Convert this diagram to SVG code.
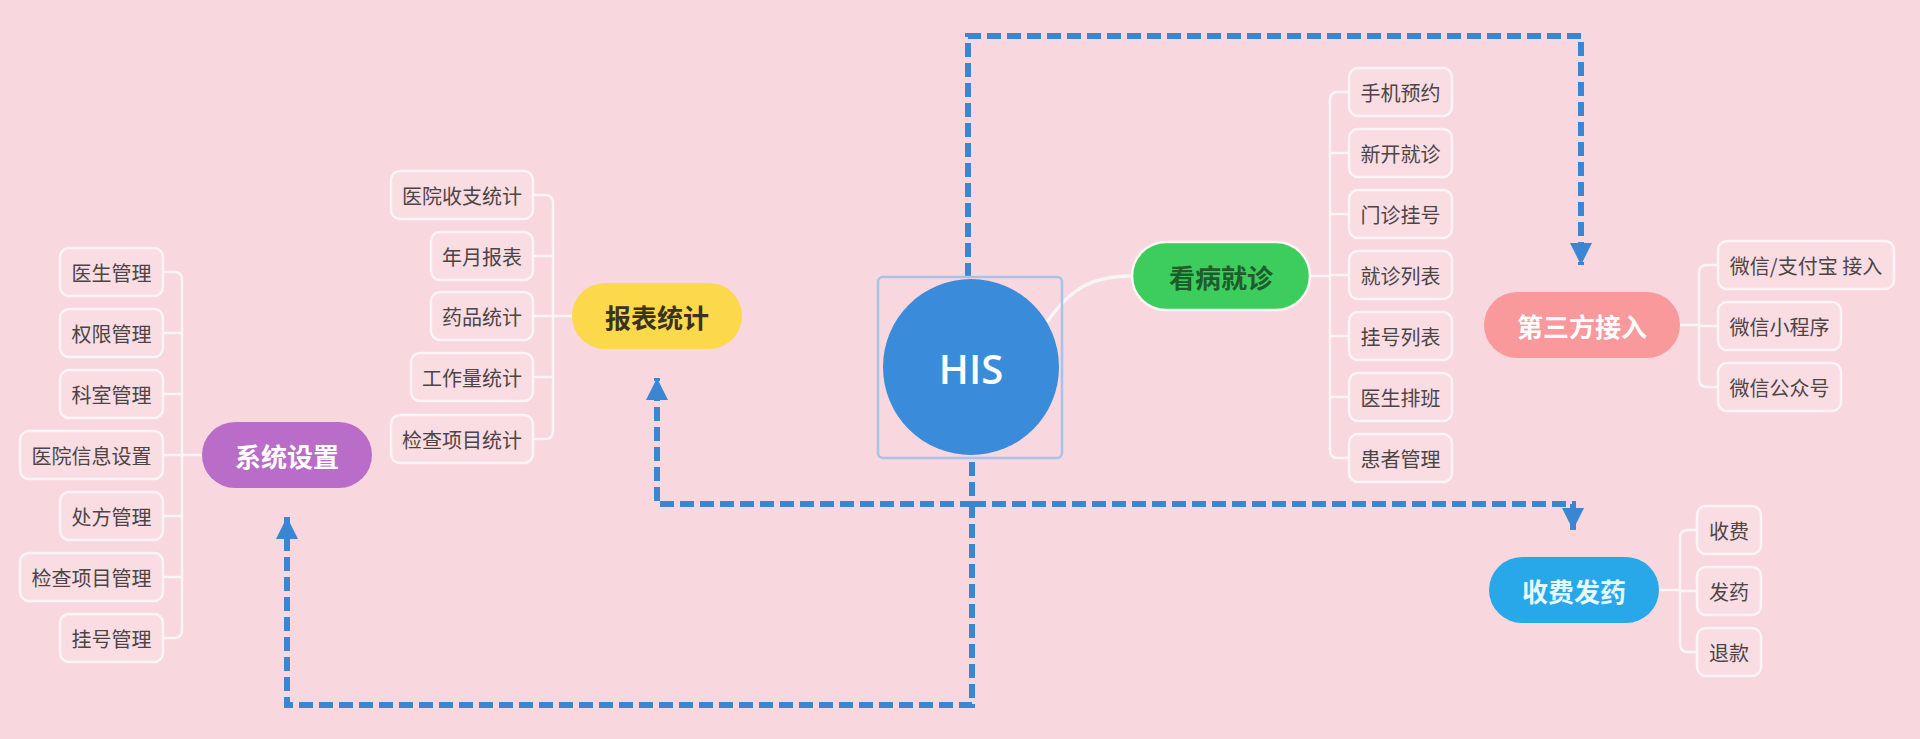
<svg xmlns="http://www.w3.org/2000/svg" width="1920" height="739" viewBox="0 0 1920 739">
<defs>
<style>
.bg{fill:#f8d7df}
.box{fill:#f9dde3;stroke:#fdf4f6;stroke-width:2.5}
.bt{font-family:"Noto Sans CJK SC","Noto Sans",sans-serif;font-size:20px;fill:#4d4446;text-anchor:middle;dominant-baseline:central}
.pt{font-family:"Noto Sans CJK SC","Noto Sans",sans-serif;font-size:26px;font-weight:bold;text-anchor:middle;dominant-baseline:central}
.br{fill:none;stroke:#fdf4f6;stroke-width:2.5}
.dash{fill:none;stroke:#3b86d3;stroke-width:6;stroke-dasharray:14 6}
</style>
<marker id="ah" markerUnits="userSpaceOnUse" markerWidth="24" markerHeight="24" viewBox="0 0 24 24" refX="22" refY="12" orient="auto">
<path d="M0,1 L22,12 L0,23 Z" fill="#3b86d3"/>
</marker>
</defs>
<rect class="bg" x="0" y="0" width="1920" height="739"/>

<g id="connectors">
<path class="br" style="stroke-width:3.5" d="M1047,322 C1072,286 1095,276 1132,276"/>
<path class="br" d="M202,455 H182 M163,272 H174 Q182,272 182,280 V630 Q182,638 174,638 H163 M163,333 H182 M163,394 H182 M163,455 H182 M163,516 H182 M163,577 H182"/>
<path class="br" d="M572,316 H553 M533,195 H545 Q553,195 553,203 V431 Q553,439 545,439 H533 M533,256 H553 M533,316 H553 M533,377 H553"/>
<path class="br" d="M1310,276 H1330 M1349,92 H1338 Q1330,92 1330,100 V450 Q1330,458 1338,458 H1349 M1330,153 H1349 M1330,214 H1349 M1330,275 H1349 M1330,336 H1349 M1330,397 H1349"/>
<path class="br" d="M1680,325 H1699 M1718,265 H1707 Q1699,265 1699,273 V379 Q1699,387 1707,387 H1718 M1699,326 H1718"/>
<path class="br" d="M1659,590 H1680 M1697,530 H1688 Q1680,530 1680,538 V644 Q1680,652 1688,652 H1697 M1680,591 H1697"/>
<path class="dash" d="M968,277 V36 H1581 V265" marker-end="url(#ah)"/>
<path class="dash" d="M972,462 V504 H657 V378" marker-end="url(#ah)"/>
<path class="dash" d="M972,504 H1573 V530" marker-end="url(#ah)"/>
<path class="dash" d="M972,504 V705 H287 V517" marker-end="url(#ah)"/>
</g>

<g id="his">
<rect x="878" y="277" width="184" height="181" rx="5" fill="none" stroke="#a7c3e8" stroke-width="2.5"/>
<circle cx="971" cy="367" r="88" fill="#3a8cdb"/>
<text x="971" y="368" font-family="'Open Sans',Lato,sans-serif" font-size="40" font-weight="600" fill="#ffffff" text-anchor="middle" dominant-baseline="central">HIS</text>
</g>

<g id="xitong">
<rect x="202" y="422" width="170" height="66" rx="33" fill="#b96cc8"/>
<text class="pt" x="287" y="455" fill="#ffffff">系统设置</text>
</g>
<g id="x1"><rect class="box" x="60" y="248" width="103" height="48" rx="9"/><text class="bt" x="111.5" y="272">医生管理</text></g>
<g id="x2"><rect class="box" x="60" y="309" width="103" height="48" rx="9"/><text class="bt" x="111.5" y="333">权限管理</text></g>
<g id="x3"><rect class="box" x="60" y="370" width="103" height="48" rx="9"/><text class="bt" x="111.5" y="394">科室管理</text></g>
<g id="x4"><rect class="box" x="20" y="431" width="143" height="48" rx="9"/><text class="bt" x="91.5" y="455">医院信息设置</text></g>
<g id="x5"><rect class="box" x="60" y="492" width="103" height="48" rx="9"/><text class="bt" x="111.5" y="516">处方管理</text></g>
<g id="x6"><rect class="box" x="20" y="553" width="143" height="48" rx="9"/><text class="bt" x="91.5" y="577">检查项目管理</text></g>
<g id="x7"><rect class="box" x="60" y="614" width="103" height="48" rx="9"/><text class="bt" x="111.5" y="638">挂号管理</text></g>

<g id="baobiao">
<rect x="572" y="283" width="170" height="66" rx="33" fill="#fcd84b"/>
<text class="pt" x="657" y="316" fill="#3b3320">报表统计</text>
</g>
<g id="b1"><rect class="box" x="391" y="171" width="142" height="48" rx="9"/><text class="bt" x="462" y="195">医院收支统计</text></g>
<g id="b2"><rect class="box" x="431" y="232" width="102" height="48" rx="9"/><text class="bt" x="482" y="256">年月报表</text></g>
<g id="b3"><rect class="box" x="431" y="292" width="102" height="48" rx="9"/><text class="bt" x="482" y="316">药品统计</text></g>
<g id="b4"><rect class="box" x="411" y="353" width="122" height="48" rx="9"/><text class="bt" x="472" y="377">工作量统计</text></g>
<g id="b5"><rect class="box" x="391" y="415" width="142" height="48" rx="9"/><text class="bt" x="462" y="439">检查项目统计</text></g>

<g id="kanbing">
<rect x="1132" y="242" width="178" height="68" rx="34" fill="#3ccd5c" stroke="#fdf4f6" stroke-width="2.5"/>
<text class="pt" x="1221" y="276" fill="#1e5b2d">看病就诊</text>
</g>
<g id="k1"><rect class="box" x="1349" y="68" width="103" height="48" rx="9"/><text class="bt" x="1400.5" y="92">手机预约</text></g>
<g id="k2"><rect class="box" x="1349" y="129" width="103" height="48" rx="9"/><text class="bt" x="1400.5" y="153">新开就诊</text></g>
<g id="k3"><rect class="box" x="1349" y="190" width="103" height="48" rx="9"/><text class="bt" x="1400.5" y="214">门诊挂号</text></g>
<g id="k4"><rect class="box" x="1349" y="251" width="103" height="48" rx="9"/><text class="bt" x="1400.5" y="275">就诊列表</text></g>
<g id="k5"><rect class="box" x="1349" y="312" width="103" height="48" rx="9"/><text class="bt" x="1400.5" y="336">挂号列表</text></g>
<g id="k6"><rect class="box" x="1349" y="373" width="103" height="48" rx="9"/><text class="bt" x="1400.5" y="397">医生排班</text></g>
<g id="k7"><rect class="box" x="1349" y="434" width="103" height="48" rx="9"/><text class="bt" x="1400.5" y="458">患者管理</text></g>

<g id="disanfang">
<rect x="1484" y="292" width="196" height="66" rx="33" fill="#f9999b"/>
<text class="pt" x="1582" y="325" fill="#ffffff">第三方接入</text>
</g>
<g id="d1"><rect class="box" x="1718" y="241" width="176" height="48" rx="9"/><text class="bt" x="1806" y="265">微信/支付宝 接入</text></g>
<g id="d2"><rect class="box" x="1718" y="302" width="123" height="48" rx="9"/><text class="bt" x="1779.5" y="326">微信小程序</text></g>
<g id="d3"><rect class="box" x="1718" y="363" width="123" height="48" rx="9"/><text class="bt" x="1779.5" y="387">微信公众号</text></g>

<g id="shoufei">
<rect x="1489" y="557" width="170" height="66" rx="33" fill="#28a8e9"/>
<text class="pt" x="1574" y="590" fill="#e6f8ff">收费发药</text>
</g>
<g id="s1"><rect class="box" x="1697" y="506" width="64" height="48" rx="9"/><text class="bt" x="1729" y="530">收费</text></g>
<g id="s2"><rect class="box" x="1697" y="567" width="64" height="48" rx="9"/><text class="bt" x="1729" y="591">发药</text></g>
<g id="s3"><rect class="box" x="1697" y="628" width="64" height="48" rx="9"/><text class="bt" x="1729" y="652">退款</text></g>
</svg>
